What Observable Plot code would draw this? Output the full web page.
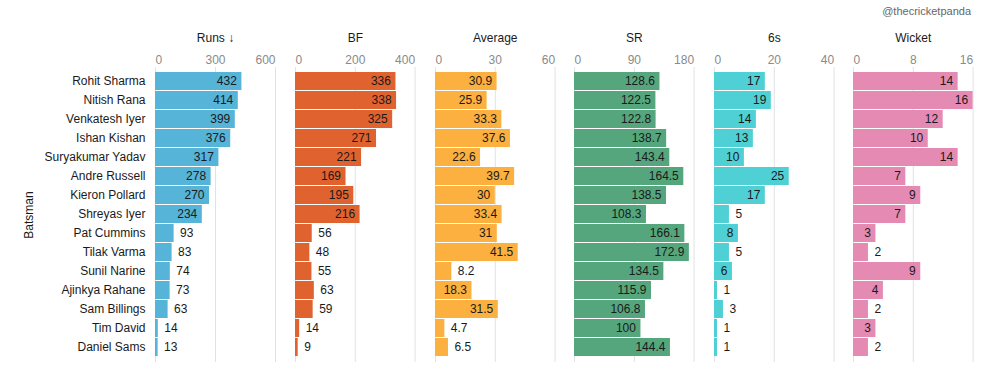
<!DOCTYPE html>
<html><head><meta charset="utf-8">
<script src="https://cdn.jsdelivr.net/npm/d3@7"></script>
<script src="https://cdn.jsdelivr.net/npm/@observablehq/plot@0.6"></script>
<style>
body{margin:0;background:#fff;font-family:"Liberation Sans",Arial,sans-serif;}
#wrap{position:relative;width:999px;height:381px;overflow:hidden;}
#charts{display:flex;position:absolute;left:0;top:0;}
#charts svg{display:block;flex:none;}
#credit{position:absolute;right:28px;top:5px;font-size:11px;color:#666;}
</style></head><body>
<div id="wrap"><div id="charts"></div><div id="credit">@thecricketpanda</div></div>
<script>
const batsmen = ["Rohit Sharma","Nitish Rana","Venkatesh Iyer","Ishan Kishan","Suryakumar Yadav","Andre Russell","Kieron Pollard","Shreyas Iyer","Pat Cummins","Tilak Varma","Sunil Narine","Ajinkya Rahane","Sam Billings","Tim David","Daniel Sams"];
const runs = [432,414,399,376,317,278,270,234,93,83,74,73,63,14,13];
const ballsFaced = [336,338,325,271,221,169,195,216,56,48,55,63,59,14,9];
const average = [30.9,25.9,33.3,37.6,22.6,39.7,30,33.4,31,41.5,8.2,18.3,31.5,4.7,6.5];
const strikeRate = [128.6,122.5,122.8,138.7,143.4,164.5,138.5,108.3,166.1,172.9,134.5,115.9,106.8,100,144.4];
const sixes = [17,19,14,13,10,25,17,5,8,5,6,1,3,1,1];
const wickets = [14,16,12,10,14,7,9,7,3,2,9,4,2,3,2];

const titles = ["Runs ↓","BF","Average","SR","6s","Wicket"];
const seriesList = [runs, ballsFaced, average, strikeRate, sixes, wickets];
const domainMax = [600,400,60,180,40,16];
const tickValues = [[0,300,600],[0,200,400],[0,30,60],[0,90,180],[0,20,40],[0,8,16]];
const colors = ["#55b4d8","#e0622f","#fbb03f","#55a67c","#4fd0d4","#e48ab3"];

const PANEL_W = 120;
const textW = s => [...s].reduce((a,c)=> a + (c === "." ? 3.34 : 6.67), 0);
const font = '"Liberation Sans", Arial, sans-serif';
const holder = document.getElementById("charts");

seriesList.forEach((vals, i) => {
  const rows = batsmen.map((name, j) => ({name, value: vals[j], label: String(vals[j])}));
  const inside = d => d.value / domainMax[i] * PANEL_W > textW(d.label) + 10;
  const t = tickValues[i];
  const first = i === 0;
  const axisCommon = {anchor: "top", tickSize: 0, tickPadding: 4, color: "#8a8a8a", label: null};
  const chart = Plot.plot({
    width: first ? 285 : 139.6,
    height: 381,
    marginTop: 67,
    marginBottom: 19,
    marginLeft: first ? 155 : 10,
    marginRight: 10,
    style: {fontFamily: font, fontSize: "12px", background: "transparent", overflow: "visible"},
    x: {domain: [0, domainMax[i]], axis: null},
    y: {domain: batsmen, paddingInner: 0.05, paddingOuter: 0.23, axis: null},
    marks: [
      Plot.gridX({ticks: t, stroke: "#dfe3e6", strokeOpacity: 1}),
      Plot.barX(rows, {x: "value", y: "name", fill: colors[i]}),
      Plot.text(rows.filter(inside), {x: "value", y: "name", text: "label", textAnchor: "end", dx: -5, fill: "#1a1a1a"}),
      Plot.text(rows.filter(d => !inside(d)), {x: "value", y: "name", text: "label", textAnchor: "start", dx: 6, fill: "#1a1a1a"}),
      Plot.axisX({...axisCommon, ticks: [t[0]], textAnchor: "start"}),
      Plot.axisX({...axisCommon, ticks: [t[1]]}),
      Plot.axisX({...axisCommon, ticks: [t[2]], textAnchor: "end"}),
      Plot.axisX({anchor: "top", ticks: [], label: titles[i], labelAnchor: "center", labelArrow: "none", labelOffset: 34, color: "#1a1a1a"}),
      first ? Plot.axisY({tickSize: 0, tickPadding: 10, label: "Batsman", labelAnchor: "center", labelArrow: "none", labelOffset: 131, color: "#1a1a1a"}) : null
    ]
  });
  holder.appendChild(chart);
});
</script>
</body></html>
